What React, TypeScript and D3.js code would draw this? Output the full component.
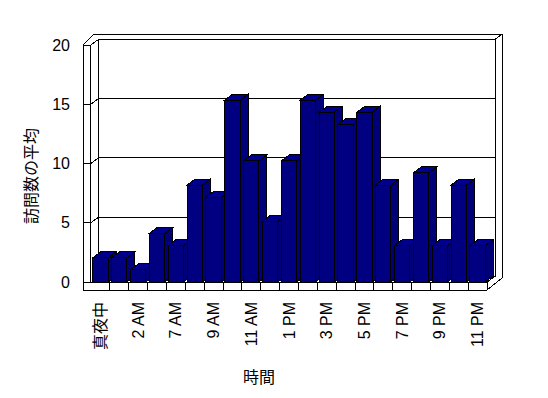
import React from "react";
import * as d3 from "d3";

const categories = ["真夜中","1 AM","2 AM","6 AM","7 AM","8 AM","9 AM","10 AM","11 AM","正午","1 PM","2 PM","3 PM","4 PM","5 PM","6 PM","7 PM","8 PM","9 PM","10 PM","11 PM"];
const visits = [2,2,1,4,3,8,7,15,10,5,10,15,14,13,14,8,3,9,3,8,3];
const yTicks = [0,5,10,15,20];
const yTitle = "訪問数の平均";
const xTitle = "時間";

const W = 548, H = 398;
const FONT = "'Liberation Sans', Arial, 'Noto Sans CJK JP', sans-serif";

export default function App() {
  const left = 91, right = 487;
  const xCat = d3.scaleBand<string>().domain(categories).range([left, right]);
  const xBar = d3.scaleBand<string>().domain(categories).range([left, right]).paddingInner(0.183).paddingOuter(0.0915);
  const yFront = d3.scaleLinear().domain([0, 20]).range([282, 45]);
  const yBack = d3.scaleLinear().domain([0, 20]).range([276.3, 39.3]);
  const yBar = d3.scaleLinear().domain([0, 20]).range([282, 39.6]);
  const FDX = 8; // floor depth offset
  const BDX = 8, BDY = -6; // bar depth
  const y0 = yFront(0);
  const bx0 = left + FDX - 0.3; // back wall left
  const bx1 = right + FDX; // back wall right
  const line = d3.line();
  const st = { stroke: "#000", strokeWidth: 1, fill: "none" } as const;

  return (
    <svg width={W} height={H} style={{ position: "absolute", left: 0, top: 0, background: "#fff" }} shapeRendering="crispEdges">
      <rect x={0} y={0} width={W} height={H} fill="#fff" />
      {/* back wall & left wall fills */}
      <path d={line([[83,290],[83,45],[94,34.3],[502,34.3],[502,278],[487,290]])!} fill="#fff" stroke="#000" />
      {/* gridlines on back wall + left wall diagonals + ticks */}
      {yTicks.map(t => (
        <g key={"g" + t}>
          <line x1={bx0} x2={bx1} y1={yBack(t)} y2={yBack(t)} {...st} />
          <path d={line([[83, yFront(t)], [left - 0.3, yFront(t)], [bx0, yBack(t)]])!} {...st} />
        </g>
      ))}
      {/* inner edges */}
      <path d={line([[left - 0.3, 282], [left - 0.3, 45], [bx0, 39.3], [bx1, 39.3], [502, 34.3]])!} {...st} />
      <line x1={bx0} x2={bx0} y1={39.3} y2={276.3} {...st} />
      <line x1={bx1} x2={bx1} y1={39.3} y2={276.3} {...st} />
      {/* floor */}
      <path d={line([[left - 0.3, y0], [right, y0], [bx1, 276.3], [bx0, 276.3]])!} fill="#fff" stroke="#000" />
      <line x1={83} x2={right} y1={290} y2={290} {...st} />
      {categories.slice(1).map(c => (
        <line key={"t" + c} x1={xCat(c)!} x2={xCat(c)!} y1={y0} y2={290} {...st} />
      ))}
      <line x1={right} x2={right} y1={y0} y2={290} {...st} />
      {/* bars */}
      {categories.map((c, i) => {
        const x0 = xBar(c)!;
        const x1 = x0 + xBar.bandwidth();
        const yt = yBar(visits[i]);
        return (
          <g key={"b" + c} stroke="#000" strokeWidth={1}>
            <path d={line([[x1, yt], [x1 + BDX, yt + BDY], [x1 + BDX, y0 + BDY], [x1, y0]])! + "Z"} fill="#000078" />
            <path d={line([[x0, yt], [x0 + BDX, yt + BDY], [x1 + BDX, yt + BDY], [x1, yt]])! + "Z"} fill="#00008c" />
            <rect x={x0} y={yt} width={x1 - x0} height={y0 - yt} fill="#000080" />
          </g>
        );
      })}
      {/* y tick labels */}
      {yTicks.map(t => (
        <text key={"yl" + t} x={70} y={yFront(t)} textAnchor="end" dominantBaseline="central" fontFamily={FONT} fontSize={16}>{t}</text>
      ))}
      {/* x tick labels */}
      {categories.map((c, i) => i % 2 === 0 ? (
        <text key={"xl" + c} transform={`translate(${xCat(c)! + xCat.bandwidth() / 2},302) rotate(-90)`} textAnchor="end" dominantBaseline="central" fontFamily={FONT} fontSize={16}>{c}</text>
      ) : null)}
      {/* titles */}
      <text transform="translate(31,176) rotate(-90)" textAnchor="middle" dominantBaseline="central" fontFamily={FONT} fontSize={16}>{yTitle}</text>
      <text x={259} y={377} textAnchor="middle" dominantBaseline="central" fontFamily={FONT} fontSize={16}>{xTitle}</text>
    </svg>
  );
}
